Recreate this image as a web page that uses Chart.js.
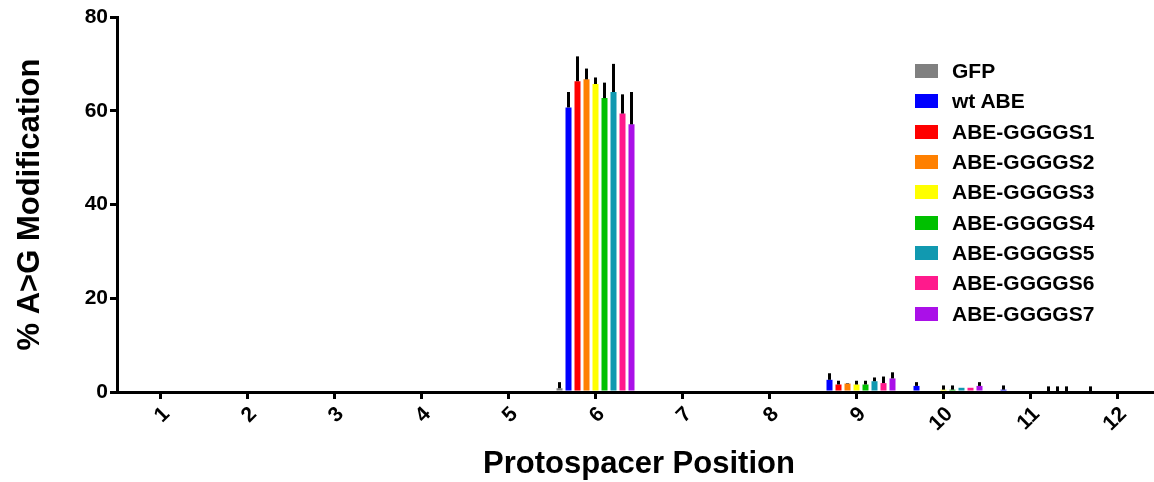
<!DOCTYPE html>
<html>
<head>
<meta charset="utf-8">
<script src="https://cdn.jsdelivr.net/npm/chart.js@4"></script>
<style>
  body { margin: 0; overflow: hidden; background: #fff; }
  .wrap { position: relative; width: 1161px; height: 482px; }
  #html-legend { position: absolute; left: 915px; top: 56px; list-style: none; margin: 0; padding: 0;
    font: bold 21px "Liberation Sans", Arial, sans-serif; color: #000; }
  #html-legend li { display: flex; align-items: center; height: 30.3px; white-space: nowrap; }
  .little-box { display: inline-block; width: 23px; height: 14px; margin-right: 14px; }
</style>
</head>
<body>
<div class="wrap">
  <canvas id="edit-chart" width="1161" height="482"></canvas>
  <ul id="html-legend"></ul>
</div>
<script>
const positions = ['1', '2', '3', '4', '5', '6', '7', '8', '9', '10', '11', '12'];
const groups = ['GFP', 'wt ABE', 'ABE-GGGGS1', 'ABE-GGGGS2', 'ABE-GGGGS3', 'ABE-GGGGS4', 'ABE-GGGGS5', 'ABE-GGGGS6', 'ABE-GGGGS7'];
const colors = ['#808080', '#0000ff', '#ff0000', '#ff8000', '#ffff00', '#00c000', '#1199b0', '#ff1a8c', '#aa10e8'];

// mean % A>G per protospacer position
const gfp    = [0, 0, 0, 0, 0, 0.8,  0, 0, 0,   0,   0,   0];
const wtAbe  = [0, 0, 0, 0, 0, 60.7, 0, 0, 2.6, 1.3, 0.5, 0];
const ggggs1 = [0, 0, 0, 0, 0, 66.3, 0, 0, 1.6, 0,   0,   0];
const ggggs2 = [0, 0, 0, 0, 0, 66.7, 0, 0, 1.8, 0,   0,   0];
const ggggs3 = [0, 0, 0, 0, 0, 65.7, 0, 0, 1.6, 0.5, 0,   0];
const ggggs4 = [0, 0, 0, 0, 0, 62.7, 0, 0, 1.6, 0.5, 0,   0];
const ggggs5 = [0, 0, 0, 0, 0, 64.0, 0, 0, 2.3, 0.9, 0,   0];
const ggggs6 = [0, 0, 0, 0, 0, 59.4, 0, 0, 1.9, 0.9, 0,   0];
const ggggs7 = [0, 0, 0, 0, 0, 57.1, 0, 0, 2.9, 1.3, 0,   0];

// upper error (SD)
const gfpErr    = [0, 0, 0, 0, 0, 1.3, 0, 0, 0,   0,   0,   0];
const wtAbeErr  = [0, 0, 0, 0, 0, 3.3, 0, 0, 1.4, 0.8, 0.9, 1.2];
const ggggs1Err = [0, 0, 0, 0, 0, 5.3, 0, 0, 0.8, 0,   0,   0];
const ggggs2Err = [0, 0, 0, 0, 0, 2.3, 0, 0, 0.1, 0,   0,   0];
const ggggs3Err = [0, 0, 0, 0, 0, 1.4, 0, 0, 0.8, 0.9, 0,   0];
const ggggs4Err = [0, 0, 0, 0, 0, 3.3, 0, 0, 0.8, 0.9, 0,   0];
const ggggs5Err = [0, 0, 0, 0, 0, 6.0, 0, 0, 0.8, 0,   1.2, 0];
const ggggs6Err = [0, 0, 0, 0, 0, 4.1, 0, 0, 1.4, 0,   1.2, 0];
const ggggs7Err = [0, 0, 0, 0, 0, 6.9, 0, 0, 1.3, 0.8, 1.2, 0];

const means = [gfp, wtAbe, ggggs1, ggggs2, ggggs3, ggggs4, ggggs5, ggggs6, ggggs7];
const errors = [gfpErr, wtAbeErr, ggggs1Err, ggggs2Err, ggggs3Err, ggggs4Err, ggggs5Err, ggggs6Err, ggggs7Err];

const fontFamily = '"Liberation Sans", Arial, sans-serif';

// upward-only error bars, like the original figure
const errorBars = {
    id: 'errorBars',
    afterDatasetsDraw(chart) {
        const ctx = chart.ctx;
        const yScale = chart.scales.y;
        ctx.save();
        ctx.strokeStyle = '#000';
        ctx.lineWidth = 3;
        chart.data.datasets.forEach((ds, i) => {
            chart.getDatasetMeta(i).data.forEach((bar, j) => {
                const err = errors[i][j];
                if (!err) return;
                const top = yScale.getPixelForValue(ds.data[j] + err);
                ctx.beginPath();
                ctx.moveTo(bar.x, bar.y);
                ctx.lineTo(bar.x, top);
                ctx.stroke();
            });
        });
        ctx.restore();
    }
};

const chart = new Chart(document.getElementById('edit-chart'), {
    type: 'bar',
    data: {
        labels: positions,
        datasets: groups.map((name, i) => ({
            label: name,
            data: means[i],
            backgroundColor: colors[i],
            borderWidth: 0,
            categoryPercentage: 0.931,
            barPercentage: 0.667
        }))
    },
    options: {
        responsive: false,
        animation: false,
        layout: { padding: { top: 17, right: 0, left: 0, bottom: 0 } },
        plugins: {
            legend: { display: false },
            tooltip: { enabled: false }
        },
        scales: {
            x: {
                border: { display: true, color: '#000', width: 3 },
                grid: { offset: false, drawOnChartArea: false, drawTicks: true, tickLength: 7, color: '#000', lineWidth: 3 },
                ticks: {
                    color: '#000', minRotation: 45, maxRotation: 45, labelOffset: 6, padding: 3,
                    font: { family: fontFamily, weight: 'bold', size: 21 }
                },
                title: {
                    display: true, text: 'Protospacer Position', color: '#000',
                    font: { family: fontFamily, weight: 'bold', size: 31, lineHeight: 1 },
                    padding: { top: 0, bottom: 2 }
                },
                afterFit(scale) { scale.height = 90; }
            },
            y: {
                min: 0, max: 80,
                border: { display: true, color: '#000', width: 3 },
                grid: { drawOnChartArea: false, drawTicks: true, tickLength: 7, color: '#000', lineWidth: 3 },
                ticks: {
                    stepSize: 20, color: '#000', padding: 2,
                    font: { family: fontFamily, weight: 'bold', size: 21 }
                },
                title: {
                    display: true, text: '% A>G Modification', color: '#000',
                    font: { family: fontFamily, weight: 'bold', size: 31 },
                    padding: { top: 12, bottom: 0 }
                },
                afterFit(scale) { scale.width = 117; }
            }
        }
    },
    plugins: [errorBars]
});

const htmlLegend = document.getElementById('html-legend');
groups.forEach((name, i) => {
    const li = document.createElement('li');
    const box = document.createElement('span');
    box.classList.add('little-box');
    box.style.backgroundColor = colors[i];
    const label = document.createElement('span');
    label.textContent = name;
    li.appendChild(box);
    li.appendChild(label);
    htmlLegend.appendChild(li);
});
</script>
</body>
</html>
